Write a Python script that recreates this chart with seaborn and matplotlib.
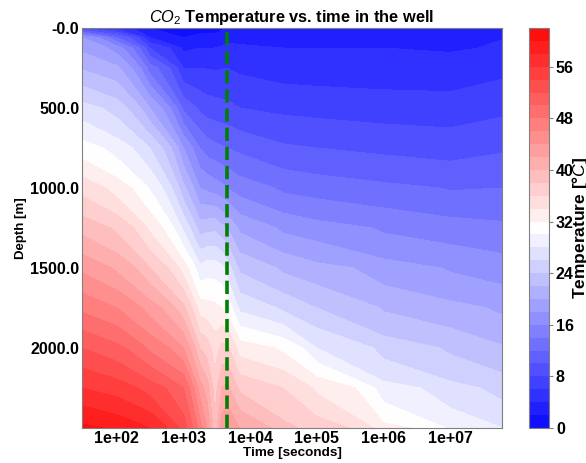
import numpy as np
import matplotlib
matplotlib.use("Agg")
import matplotlib.pyplot as plt
from matplotlib.ticker import FormatStrFormatter
import seaborn as sns

depth = [0, 60, 125, 250, 500, 750, 1000, 1250, 1500, 1750, 2000, 2250, 2500]
times = [30, 100, 312, 1000, 1760, 2250, 2950, 3750, 4500, 6980, 30800, 1e5, 1e6, 1e7, 6e7]

# temperature down the well, one list per time
T_30 = [8, 18, 19.5, 21.8, 26.7, 30.8, 35.2, 39.2, 43.5, 47.5, 52, 56, 60.5]
T_100 = [5, 12, 17, 20.4, 25, 29, 33, 37.5, 41.5, 46, 50.5, 55, 59.5]
T_312 = [2, 4, 8, 13, 20, 26, 29.8, 33.5, 38, 43, 47.5, 53, 58]
T_1000 = [1, 2, 3.5, 6, 11.5, 18, 22.5, 27.5, 33, 38.5, 44, 50, 53]
T_1760 = [1, 2.6, 4, 6, 9.5, 14, 18, 23, 28.5, 33, 38, 43, 47]
T_2250 = [1, 2.7, 4, 5.9, 9, 13, 17.5, 23.3, 29, 32.7, 37, 41, 44]
T_2950 = [1, 2.8, 4, 5.8, 8.8, 12.5, 17, 23.5, 29, 32.5, 35, 37, 38.5]
T_3750 = [1.5, 3, 4.2, 5.9, 8.6, 12.2, 16.5, 22.5, 28.5, 32, 36.5, 40, 43]
T_4500 = [2.5, 3.5, 4.5, 6, 8.5, 12, 16, 22, 27, 31.3, 36.5, 40.5, 44]
T_6980 = [2.5, 3.4, 4.3, 5.6, 8, 11.5, 15, 19.5, 23.5, 27.5, 33, 37.5, 42]
T_30800 = [2.6, 3.3, 4, 5, 7.5, 10.3, 13.5, 17.5, 21.5, 25.5, 31.5, 36, 38.5]
T_1e5 = [2.6, 3.3, 4, 4.9, 7.3, 10, 13, 16.7, 20.5, 24, 28, 33.5, 37]
T_1e6 = [2.8, 3.5, 4, 4.8, 7, 9.5, 12.4, 15.6, 18.7, 21.7, 25, 28.6, 32.5]
T_1e7 = [3, 3.5, 3.8, 4.7, 6.9, 9.1, 11.8, 14.8, 17.7, 20.5, 23.5, 26.5, 29.5]
T_6e7 = [3.4, 3.9, 4.4, 5.4, 7.5, 9.7, 12, 14.4, 16.9, 19.5, 22.2, 25.1, 28]

injection_stop = 4500
depth_ticks = [0, 500, 1000, 1500, 2000]
depth_labels = ["-0.0", "500.0", "1000.0", "1500.0", "2000.0"]
time_ticks = [1e2, 1e3, 1e4, 1e5, 1e6, 1e7]
cbar_ticks = [0, 8, 16, 24, 32, 40, 48, 56]
levels = list(range(0, 64, 2))

sns.set_style("white")
plt.rcParams['font.family'] = ['Liberation Sans', 'DejaVu Sans']
plt.rcParams['font.weight'] = 'bold'
plt.rcParams['text.color'] = 'black'
plt.rcParams['axes.labelcolor'] = 'black'
plt.rcParams['xtick.labelcolor'] = 'black'
plt.rcParams['ytick.labelcolor'] = 'black'
plt.rcParams['mathtext.fontset'] = 'custom'
plt.rcParams['mathtext.it'] = 'Liberation Sans:italic:normal'
plt.rcParams['mathtext.rm'] = 'Liberation Sans:normal'

temps = np.array([T_30, T_100, T_312, T_1000, T_1760, T_2250, T_2950, T_3750, T_4500,
                  T_6980, T_30800, T_1e5, T_1e6, T_1e7, T_6e7]).T

W, H = 586, 463
fig = plt.figure(figsize=(W / 100, H / 100), dpi=100)
ax = fig.add_axes([82 / W, 1 - 428 / H, 420 / W, 400 / H])
cax = fig.add_axes([529 / W, 1 - 428 / H, 20 / W, 400 / H])

colors = sns.color_palette("bwr", len(levels) - 1)
cs = ax.contourf(times, depth, temps, levels=levels, colors=colors)
ax.axvline(injection_stop, color="green", ls="--", lw=2.6)

ax.set_xscale("log")
ax.set_xlim(30, 6e7)
ax.set_ylim(2500, 0)
ax.set_xticks(time_ticks)
ax.minorticks_off()
ax.xaxis.set_major_formatter(FormatStrFormatter("%.0e"))
ax.set_yticks(depth_ticks)
ax.set_yticklabels(depth_labels)
ax.tick_params(axis="both", labelsize=11.5, length=0, pad=2)
ax.set_xlabel("Time [seconds]", fontsize=9.7, fontweight="bold", labelpad=1)
ax.set_ylabel("Depth [m]", fontsize=9.5, fontweight="bold", labelpad=2)
ax.set_title("$CO_2$ Temperature vs. time in the well", fontsize=11.8, fontweight="bold", pad=4)
for s in ax.spines.values():
    s.set_color("gray")

cbar = fig.colorbar(cs, cax=cax, ticks=cbar_ticks)
cbar.ax.tick_params(labelsize=11.5, length=3, width=0.8, pad=2, color="gray")
cbar.outline.set_edgecolor("gray")
cbar.set_label("Temperature [°$C$]", fontsize=12.5, fontweight="bold", labelpad=-3)

fig.savefig("out.png", dpi=100)
